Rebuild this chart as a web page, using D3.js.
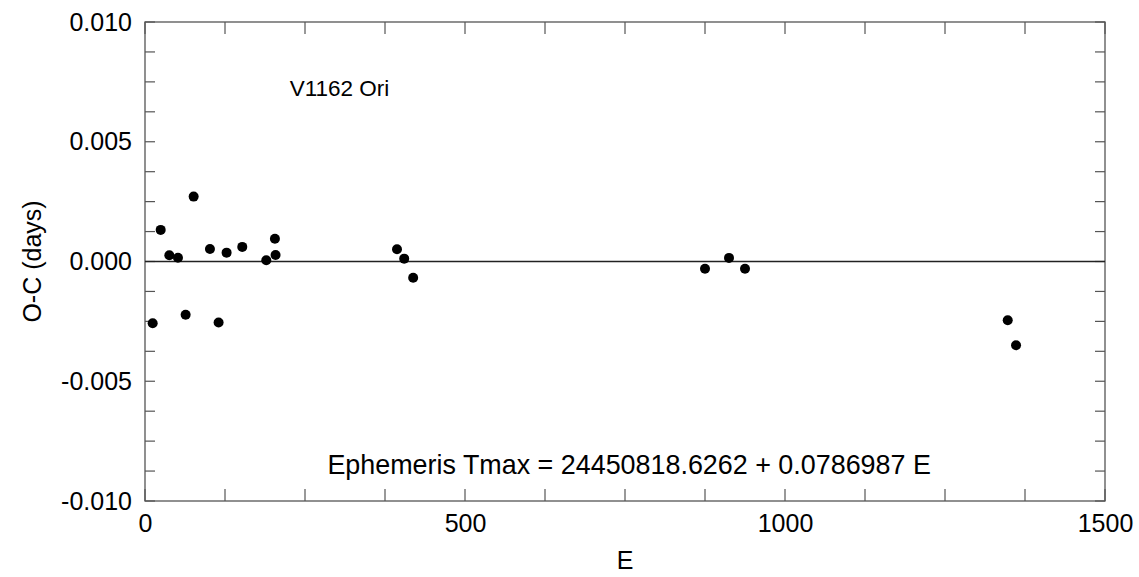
<!DOCTYPE html>
<html>
<head>
<meta charset="utf-8">
<script src="https://cdn.jsdelivr.net/npm/d3@7"></script>
<style>
  body { margin: 0; background: #fff; }
  text { font-family: "Liberation Sans", Arial, sans-serif; fill: #000; }
</style>
</head>
<body>
<div id="chart"></div>
<script>
// epochs and O-C residuals
const epochs = [12, 24.5, 38, 51.5, 63.5, 76, 101.5, 115, 127.5, 152, 189.5, 203, 204,
                393.75, 405, 419, 875, 912.5, 937.5, 1348, 1361];
const residuals = [-0.00258, 0.00132, 0.00026, 0.00016, -0.00222, 0.00271, 0.00052, -0.00255,
                   0.00037, 0.00061, 0.00005, 0.00095, 0.00027, 0.00051, 0.00012, -0.00068,
                   -0.0003, 0.00015, -0.0003, -0.00245, -0.0035];
const xTicks = [0, 500, 1000, 1500];
const yTicks = [-0.010, -0.005, 0.000, 0.005, 0.010];
const starName = "V1162 Ori";
const ephemeris = "Ephemeris Tmax = 24450818.6262 + 0.0786987 E";

const W = 1139, H = 577;
const margin = {top: 22, right: 34, bottom: 76, left: 145},
    width = W - margin.left - margin.right,
    height = H - margin.top - margin.bottom;

let x = d3.scaleLinear().domain([0, 1500]).range([0, width]),
    y = d3.scaleLinear().domain([-0.01, 0.01]).range([height, 0]);

const svg = d3.select("#chart")
  .append("svg")
  .attr("width", W)
  .attr("height", H)
  .append("g")
  .attr("transform", "translate(" + margin.left + "," + margin.top + ")");

// minor ticks, inward on all four sides
const xMinor = d3.range(0, 1501, 125),
      yMinor = d3.range(-0.01, 0.01001, 0.00125);
const tickCol = "#555";

xMinor.forEach(function(v) {
  svg.append("line").attr("x1", x(v)).attr("x2", x(v)).attr("y1", height).attr("y2", height - 12)
    .attr("stroke", tickCol).attr("stroke-width", 1.2);
  svg.append("line").attr("x1", x(v)).attr("x2", x(v)).attr("y1", 0).attr("y2", 12)
    .attr("stroke", tickCol).attr("stroke-width", 1.2);
});
yMinor.forEach(function(v) {
  svg.append("line").attr("x1", 0).attr("x2", 10).attr("y1", y(v)).attr("y2", y(v))
    .attr("stroke", tickCol).attr("stroke-width", 1.2);
  svg.append("line").attr("x1", width).attr("x2", width - 10).attr("y1", y(v)).attr("y2", y(v))
    .attr("stroke", tickCol).attr("stroke-width", 1.2);
});

// frame
svg.append("rect")
  .attr("width", width).attr("height", height)
  .attr("fill", "none").attr("stroke", tickCol).attr("stroke-width", 1.3);

// zero line
svg.append("line")
  .attr("x1", 0).attr("x2", width)
  .attr("y1", y(0)).attr("y2", y(0))
  .attr("stroke", "#222").attr("stroke-width", 1.3);

// tick labels through axes
let xAxis = d3.axisBottom(x).tickValues(xTicks).tickSize(0).tickPadding(13).tickFormat(d3.format("d")),
    yAxis = d3.axisLeft(y).tickValues(yTicks).tickSize(0).tickPadding(13).tickFormat(d3.format(".3f"));

const gx = svg.append("g").attr("transform", "translate(0," + height + ")").call(xAxis);
const gy = svg.append("g").call(yAxis);
[gx, gy].forEach(function(g) {
  g.select(".domain").remove();
  g.selectAll("text").attr("font-size", 25).attr("font-family", "Liberation Sans, Arial, sans-serif").attr("fill", "#000");
});
gy.selectAll("text").text(d => d === 0 ? "0.000" : d3.format(".3f")(d).replace("−", "-"));

// points
svg.selectAll(".dot")
  .data(epochs.map((e, i) => ({E: e, oc: residuals[i]})))
  .enter()
  .append("circle")
  .attr("class", "dot")
  .attr("r", 5)
  .attr("fill", "#000")
  .attr("cx", d => x(d.E))
  .attr("cy", d => y(d.oc));

// annotations
svg.append("text")
  .attr("x", x(226))
  .attr("y", y(0.00691))
  .attr("font-size", 22.5)
  .text(starName);

svg.append("text")
  .attr("x", x(285))
  .attr("y", y(-0.00887))
  .attr("font-size", 26.9)
  .text(ephemeris);

// axis titles
svg.append("text")
  .attr("x", width / 2)
  .attr("y", height + 68)
  .attr("text-anchor", "middle")
  .attr("font-size", 25)
  .text("E");

svg.append("text")
  .attr("transform", "rotate(-90)")
  .attr("x", -height / 2)
  .attr("y", -104)
  .attr("text-anchor", "middle")
  .attr("font-size", 25)
  .text("O-C (days)");
</script>
</body>
</html>
